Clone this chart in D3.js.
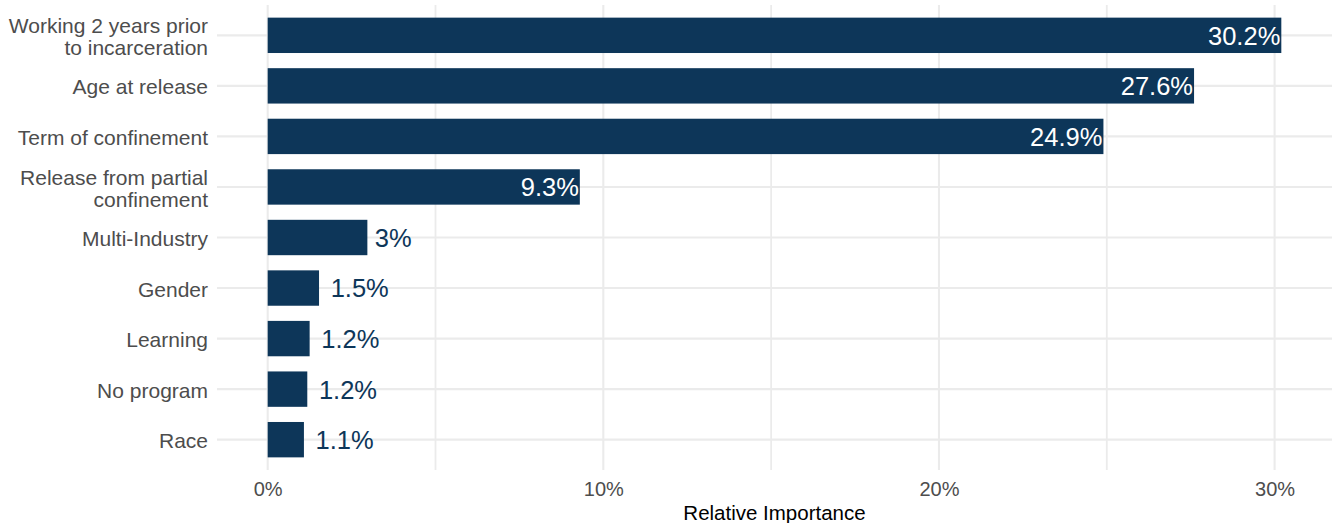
<!DOCTYPE html>
<html>
<head>
<meta charset="utf-8">
<script src="https://cdn.jsdelivr.net/npm/d3@7"></script>
<style>
  html, body { margin: 0; padding: 0; background: #fff; }
  svg { display: block; font-family: "Liberation Sans", Arial, sans-serif; }
</style>
</head>
<body>
<svg id="chart" width="1332" height="523"></svg>
<script>
const categories = [
  "Working 2 years prior\nto incarceration",
  "Age at release",
  "Term of confinement",
  "Release from partial\nconfinement",
  "Multi-Industry",
  "Gender",
  "Learning",
  "No program",
  "Race"
];
const values = [30.2, 27.6, 24.9, 9.3, 2.97, 1.53, 1.25, 1.18, 1.08];
const valueLabels = ["30.2%", "27.6%", "24.9%", "9.3%", "3%", "1.5%", "1.2%", "1.2%", "1.1%"];
const xTicks = [0, 10, 20, 30];
const xMinorTicks = [5, 15, 25];
const xTitle = "Relative Importance";

const W = 1332, H = 523;
const panel = { left: 217, right: 1332, top: 5, bottom: 470 };
const barColor = "#0d3659";
const svg = d3.select("#chart");

const dataMax = d3.max(values);
const pad = dataMax * 0.05;
const x = d3.scaleLinear().domain([-pad, dataMax + pad]).range([panel.left, panel.right]);

const n = categories.length;
const step = (panel.bottom - panel.top) / (n - 1 + 1.2);
const y = d3.scalePoint().domain(categories).range([panel.top + 0.6 * step, panel.bottom - 0.6 * step]);
const barH = step * 0.7;

const grid = svg.append("g");
grid.selectAll("line.minor").data(xMinorTicks).join("line")
  .attr("x1", d => x(d)).attr("x2", d => x(d))
  .attr("y1", panel.top).attr("y2", panel.bottom)
  .attr("stroke", "#ebebeb").attr("stroke-width", 1.8);
grid.selectAll("line.major").data(xTicks).join("line")
  .attr("x1", d => x(d)).attr("x2", d => x(d))
  .attr("y1", panel.top).attr("y2", panel.bottom)
  .attr("stroke", "#ebebeb").attr("stroke-width", 2.1);
grid.selectAll("line.h").data(categories).join("line")
  .attr("x1", panel.left).attr("x2", panel.right)
  .attr("y1", d => y(d)).attr("y2", d => y(d))
  .attr("stroke", "#ebebeb").attr("stroke-width", 2.1);

svg.append("g").selectAll("rect").data(categories).join("rect")
  .attr("x", x(0))
  .attr("y", d => y(d) - barH / 2)
  .attr("width", (d, i) => x(values[i]) - x(0))
  .attr("height", barH)
  .attr("fill", barColor);

// value labels: inside (right aligned) for long bars, outside with hjust=-0.2 for short ones
svg.append("g").selectAll("text").data(categories).join("text")
  .attr("y", d => y(d))
  .attr("dy", "0.37em")
  .attr("text-anchor", "start")
  .attr("fill", (d, i) => values[i] > 5 ? "#ffffff" : barColor)
  .attr("font-size", 25.5)
  .text((d, i) => valueLabels[i])
  .each(function(d, i) {
    const w = this.getComputedTextLength();
    const xs = values[i] > 5 ? x(values[i]) - w - 1 : x(values[i]) + 0.2 * w;
    d3.select(this).attr("x", xs);
  });

const yl = svg.append("g").selectAll("text").data(categories).join("text")
  .attr("x", panel.left - 9)
  .attr("y", d => y(d))
  .attr("text-anchor", "end")
  .attr("fill", "#4d4d4d")
  .attr("font-size", 21);
yl.each(function(d) {
  const lines = d.split("\n");
  const lh = 22;
  const t = d3.select(this);
  lines.forEach((ln, k) => {
    t.append("tspan")
      .attr("x", panel.left - 9)
      .attr("y", y(d) + (k - (lines.length - 1) / 2) * lh + 1)
      .attr("dy", "0.36em")
      .text(ln);
  });
});

const xAxis = d3.axisBottom(x).tickValues(xTicks).tickFormat(d => d + "%").tickSize(0).tickPadding(0);
const gx = svg.append("g").attr("transform", `translate(0,${panel.bottom})`).call(xAxis);
gx.select(".domain").remove();
gx.selectAll("text")
  .attr("font-family", "Liberation Sans, Arial, sans-serif")
  .attr("font-size", 20)
  .attr("fill", "#4d4d4d")
  .attr("dy", null)
  .attr("y", 26);

svg.append("text")
  .attr("x", (panel.left + panel.right) / 2)
  .attr("y", 520)
  .attr("text-anchor", "middle")
  .attr("fill", "#000")
  .attr("font-size", 20.5)
  .text(xTitle);
</script>
</body>
</html>
